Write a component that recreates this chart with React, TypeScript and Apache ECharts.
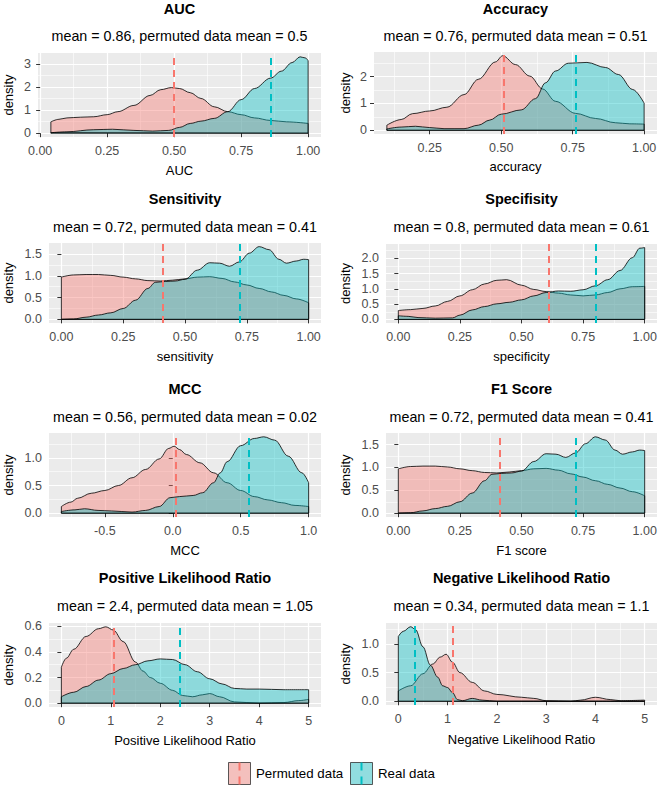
import { useEffect, useRef } from "react";
import * as echarts from "echarts";

type Pt = [number, number];

const PERM_COLOR = "#F8766D";
const REAL_COLOR = "#00BFC4";
const FONT = '"Liberation Sans", Arial, sans-serif';
const DASH = [7, 5];

// ---------- text ----------
const panelTitles = [
  "AUC",
  "Accuracy",
  "Sensitivity",
  "Specifisity",
  "MCC",
  "F1 Score",
  "Positive Likelihood Ratio",
  "Negative Likelihood Ratio",
];
const xAxisTitles = [
  "AUC",
  "accuracy",
  "sensitivity",
  "specificity",
  "MCC",
  "F1 score",
  "Positive Likelihood Ratio",
  "Negative Likelihood Ratio",
];
const realMeans = [0.86, 0.76, 0.72, 0.8, 0.56, 0.72, 2.4, 0.34];
const permutedMeans = [0.5, 0.51, 0.41, 0.61, 0.02, 0.41, 1.05, 1.1];
const legendLabels = ["Permuted data", "Real data"];

// ---------- density curves (x, density) ----------
const aucPermuted: Pt[] = [
  [0.04, 0.49], [0.07, 0.6], [0.1, 0.66], [0.15, 0.69], [0.2, 0.71], [0.25, 0.8],
  [0.29, 0.93], [0.35, 1.2], [0.41, 1.63], [0.45, 1.88], [0.49, 1.97], [0.52, 1.93],
  [0.56, 1.75], [0.6, 1.5], [0.65, 1.14], [0.7, 0.93], [0.75, 0.8], [0.8, 0.66],
  [0.86, 0.55], [0.92, 0.49], [1.0, 0.42],
];
const aucReal: Pt[] = [
  [0.04, 0.02], [0.1, 0.06], [0.2, 0.15], [0.27, 0.17], [0.35, 0.12], [0.42, 0.09],
  [0.48, 0.12], [0.52, 0.25], [0.56, 0.42], [0.6, 0.52], [0.65, 0.64], [0.7, 0.93],
  [0.75, 1.45], [0.8, 1.93], [0.86, 2.38], [0.9, 2.68], [0.94, 3.05], [0.97, 3.3],
  [0.99, 3.25], [1.0, 3.13],
];
const accuracyPermuted: Pt[] = [
  [0.1, 0.19], [0.15, 0.4], [0.19, 0.62], [0.25, 0.72], [0.31, 0.86], [0.37, 1.33],
  [0.42, 1.9], [0.48, 2.55], [0.505, 2.78], [0.55, 2.45], [0.6, 2.02], [0.645, 1.54],
  [0.69, 1.08], [0.76, 0.63], [0.83, 0.44], [0.9, 0.28], [0.95, 0.24], [1.0, 0.23],
];
const accuracyReal: Pt[] = [
  [0.1, 0.05], [0.15, 0.12], [0.2, 0.15], [0.25, 0.1], [0.3, 0.06], [0.37, 0.06],
  [0.42, 0.19], [0.46, 0.38], [0.5, 0.6], [0.57, 0.76], [0.62, 1.18], [0.655, 1.77],
  [0.69, 2.21], [0.735, 2.5], [0.8, 2.53], [0.865, 2.34], [0.91, 2.08], [0.96, 1.52],
  [1.0, 1.01],
];
const sensitivityPermuted: Pt[] = [
  [0, 0.97], [0.05, 1.02], [0.1, 1.03], [0.15, 1.03], [0.2, 1.01], [0.25, 0.97],
  [0.3, 0.93], [0.35, 0.89], [0.4, 0.88], [0.45, 0.9], [0.5, 0.93], [0.55, 0.97],
  [0.6, 0.98], [0.65, 0.94], [0.7, 0.86], [0.75, 0.79], [0.8, 0.71], [0.85, 0.63],
  [0.9, 0.55], [0.95, 0.47], [1.0, 0.38],
];
const sensitivityReal: Pt[] = [
  [0, 0], [0.05, 0.01], [0.1, 0.05], [0.15, 0.1], [0.2, 0.15], [0.25, 0.25],
  [0.3, 0.44], [0.35, 0.71], [0.38, 0.85], [0.42, 0.87], [0.46, 0.88], [0.5, 0.92],
  [0.55, 1.13], [0.6, 1.3], [0.64, 1.29], [0.68, 1.22], [0.72, 1.32], [0.76, 1.52],
  [0.8, 1.67], [0.84, 1.6], [0.88, 1.38], [0.91, 1.29], [0.95, 1.34], [0.98, 1.38],
  [1.0, 1.37],
];
const specificityPermuted: Pt[] = [
  [0, 0.29], [0.05, 0.32], [0.1, 0.36], [0.15, 0.44], [0.2, 0.59], [0.25, 0.77],
  [0.3, 0.97], [0.35, 1.16], [0.4, 1.28], [0.44, 1.3], [0.5, 1.12], [0.55, 0.98],
  [0.6, 0.91], [0.65, 0.86], [0.7, 0.8], [0.75, 0.77], [0.8, 0.8], [0.85, 0.88],
  [0.9, 1.0], [0.95, 1.07], [1.0, 1.08],
];
const specificityReal: Pt[] = [
  [0, 0.12], [0.04, 0.1], [0.08, 0.06], [0.15, 0.04], [0.22, 0.05], [0.25, 0.14],
  [0.3, 0.31], [0.35, 0.42], [0.4, 0.51], [0.45, 0.56], [0.5, 0.64], [0.55, 0.77],
  [0.6, 0.88], [0.65, 0.93], [0.7, 0.92], [0.75, 0.97], [0.8, 1.1], [0.85, 1.3],
  [0.9, 1.6], [0.95, 2.02], [0.98, 2.33], [1.0, 2.35],
];
const mccPermuted: Pt[] = [
  [-0.82, 0.12], [-0.75, 0.2], [-0.7, 0.27], [-0.6, 0.36], [-0.5, 0.41], [-0.4, 0.5],
  [-0.3, 0.64], [-0.2, 0.79], [-0.1, 0.98], [-0.03, 1.17], [0.01, 1.21], [0.05, 1.15],
  [0.1, 1.06], [0.2, 0.91], [0.3, 0.73], [0.4, 0.55], [0.5, 0.41], [0.6, 0.3],
  [0.7, 0.24], [0.8, 0.19], [0.9, 0.14], [1.0, 0.12],
];
const mccReal: Pt[] = [
  [-0.82, 0.03], [-0.72, 0.06], [-0.65, 0.08], [-0.55, 0.05], [-0.45, 0.04], [-0.3, 0.02],
  [-0.2, 0.05], [-0.1, 0.12], [-0.02, 0.28], [0.05, 0.3], [0.15, 0.32], [0.22, 0.37],
  [0.3, 0.55], [0.35, 0.73], [0.4, 0.93], [0.5, 1.22], [0.6, 1.35], [0.67, 1.38],
  [0.75, 1.32], [0.85, 1.03], [0.95, 0.73], [1.0, 0.55],
];
const f1Permuted: Pt[] = [
  [0, 0.97], [0.05, 1.02], [0.1, 1.03], [0.15, 1.03], [0.2, 1.01], [0.25, 0.97],
  [0.3, 0.93], [0.35, 0.89], [0.4, 0.88], [0.45, 0.9], [0.5, 0.93], [0.55, 0.97],
  [0.6, 0.98], [0.65, 0.94], [0.7, 0.86], [0.75, 0.79], [0.8, 0.71], [0.85, 0.63],
  [0.9, 0.55], [0.95, 0.47], [1.0, 0.38],
];
const f1Real: Pt[] = [
  [0, 0], [0.05, 0.01], [0.1, 0.05], [0.15, 0.1], [0.2, 0.15], [0.25, 0.25],
  [0.3, 0.44], [0.35, 0.71], [0.38, 0.85], [0.42, 0.87], [0.46, 0.88], [0.5, 0.92],
  [0.55, 1.13], [0.6, 1.3], [0.64, 1.29], [0.68, 1.22], [0.72, 1.32], [0.76, 1.52],
  [0.8, 1.67], [0.84, 1.6], [0.88, 1.38], [0.91, 1.29], [0.95, 1.34], [0.98, 1.38],
  [1.0, 1.37],
];
const plrPermuted: Pt[] = [
  [0, 0.28], [0.1, 0.35], [0.25, 0.42], [0.5, 0.52], [0.75, 0.58], [0.9, 0.595],
  [1.05, 0.57], [1.25, 0.48], [1.5, 0.32], [1.65, 0.25], [1.8, 0.2], [2.0, 0.155],
  [2.25, 0.1], [2.45, 0.06], [2.65, 0.05], [2.85, 0.065], [3.0, 0.075], [3.2, 0.05],
  [3.5, 0.01], [4.0, 0.0], [4.5, 0.005], [4.8, 0.02], [5.0, 0.03],
];
const plrReal: Pt[] = [
  [0, 0.05], [0.25, 0.085], [0.5, 0.13], [0.75, 0.18], [1.0, 0.23], [1.25, 0.27],
  [1.5, 0.3], [1.75, 0.33], [2.0, 0.345], [2.25, 0.34], [2.5, 0.3], [2.75, 0.245],
  [3.0, 0.19], [3.25, 0.15], [3.5, 0.115], [3.75, 0.11], [4.0, 0.11], [4.5, 0.105],
  [5.0, 0.105],
];
const nlrPermuted: Pt[] = [
  [0, 0.18], [0.25, 0.27], [0.5, 0.48], [0.7, 0.65], [0.85, 0.77], [0.97, 0.82],
  [1.1, 0.68], [1.25, 0.5], [1.5, 0.33], [1.75, 0.18], [2.0, 0.12], [2.5, 0.07],
  [2.75, 0.05], [3.0, 0.01], [3.5, 0.0], [3.7, 0.02], [4.0, 0.07], [4.3, 0.03],
  [4.5, 0.01], [5.0, 0.02],
];
const nlrReal: Pt[] = [
  [0, 1.13], [0.1, 1.22], [0.25, 1.3], [0.35, 1.25], [0.5, 0.95], [0.65, 0.63],
  [0.8, 0.42], [0.9, 0.27], [1.0, 0.24], [1.1, 0.15], [1.2, 0.03], [1.3, 0.01],
  [1.5, 0.05], [1.7, 0.02], [2.0, 0.0], [3.0, 0.0], [4.0, 0.0], [5.0, 0.0],
];

const permutedCurves = [aucPermuted, accuracyPermuted, sensitivityPermuted, specificityPermuted, mccPermuted, f1Permuted, plrPermuted, nlrPermuted];
const realCurves = [aucReal, accuracyReal, sensitivityReal, specificityReal, mccReal, f1Real, plrReal, nlrReal];

// ---------- ticks ----------
const unitTicks = [0, 0.25, 0.5, 0.75, 1];
const unitMinor = [0.125, 0.375, 0.625, 0.875];
const lrTicks = [0, 1, 2, 3, 4, 5];
const lrMinor = [0.5, 1.5, 2.5, 3.5, 4.5];
const xTicks = [unitTicks, [0.25, 0.5, 0.75, 1], unitTicks, unitTicks, [-0.5, 0, 0.5, 1], unitTicks, lrTicks, lrTicks];
const xMinor = [unitMinor, unitMinor, unitMinor, unitMinor, [-0.75, -0.25, 0.25, 0.75], unitMinor, lrMinor, lrMinor];
const yTicks = [
  [0, 1, 2, 3], [0, 1, 2], [0, 0.5, 1, 1.5], [0, 0.5, 1, 1.5, 2],
  [0, 0.5, 1], [0, 0.5, 1, 1.5], [0, 0.2, 0.4, 0.6], [0, 0.5, 1],
];
const yMinor = [
  [0.5, 1.5, 2.5], [0.5, 1.5, 2.5], [0.25, 0.75, 1.25], [0.25, 0.75, 1.25, 1.75, 2.25],
  [0.25, 0.75, 1.25], [0.25, 0.75, 1.25], [0.1, 0.3, 0.5], [0.25, 0.75, 1.25],
];
const xDecimals = [2, 2, 2, 2, 1, 2, 0, 0];
const yDecimals = [0, 0, 1, 1, 1, 1, 1, 1];

// ---------- layout (pixels) ----------
const LAYOUT = [
  { left: 38, top: 53, width: 283, height: 84, titleY: 9, subY: 35.5, nameY: 170, dX: 8 },
  { left: 374, top: 52, width: 283, height: 82, titleY: 9, subY: 35.5, nameY: 166, dX: 345 },
  { left: 49, top: 243, width: 272, height: 80, titleY: 198.5, subY: 226.5, nameY: 356, dX: 8 },
  { left: 386, top: 244, width: 271, height: 79, titleY: 198.5, subY: 226.5, nameY: 356, dX: 345 },
  { left: 49, top: 433, width: 272, height: 84, titleY: 388.5, subY: 417, nameY: 550, dX: 8 },
  { left: 386, top: 433, width: 271, height: 84, titleY: 388.5, subY: 417, nameY: 550, dX: 345 },
  { left: 49, top: 623, width: 272, height: 84, titleY: 578, subY: 605.5, nameY: 740, dX: 8 },
  { left: 386, top: 623, width: 271, height: 82, titleY: 578, subY: 605.5, nameY: 739, dX: 345 },
];

function txt(text: string, x: number, y: number, size: number, opts: any = {}) {
  return {
    type: "text",
    x,
    y,
    rotation: opts.rotation || 0,
    silent: true,
    style: {
      text,
      fontSize: size,
      fontFamily: FONT,
      fontWeight: opts.bold ? "bold" : "normal",
      fill: opts.color || "#000",
      align: opts.align || "center",
      verticalAlign: "middle",
    },
  };
}

function buildOption() {
  const grid: any[] = [];
  const xAxis: any[] = [];
  const yAxis: any[] = [];
  const series: any[] = [];
  const graphic: any[] = [];

  LAYOUT.forEach((L, i) => {
    const perm = permutedCurves[i];
    const real = realCurves[i];
    const xs = [...perm, ...real].map((p) => p[0]);
    const ys = [...perm, ...real].map((p) => p[1]);
    const xMin = Math.min(...xs);
    const xMax = Math.max(...xs);
    const yMax = Math.max(...ys);
    const xPad = (xMax - xMin) * 0.05;

    grid.push({
      left: L.left, top: L.top, width: L.width, height: L.height,
      show: true, backgroundColor: "#EBEBEB", borderWidth: 0,
      outerBoundsMode: "none", containLabel: false,
    });

    const xd = xDecimals[i];
    const yd = yDecimals[i];
    xAxis.push({
      type: "value", gridIndex: i, min: xMin - xPad, max: xMax + xPad,
      axisLine: { show: false },
      axisTick: { show: true, length: 4, customValues: xTicks[i], lineStyle: { color: "#333333", width: 1 } },
      axisLabel: {
        customValues: xTicks[i], formatter: (v: number) => v.toFixed(xd),
        color: "#4D4D4D", fontSize: 12.5, fontFamily: FONT, margin: 7,
      },
      splitLine: { show: true, lineStyle: { color: "#FFFFFF", width: 1.2 } },
    });
    xAxis.push({
      type: "value", gridIndex: i, min: xMin - xPad, max: xMax + xPad, position: "bottom",
      axisLine: { show: false },
      axisTick: { show: false, customValues: xMinor[i] },
      axisLabel: { show: false, customValues: xMinor[i] },
      splitLine: { show: true, lineStyle: { color: "#FFFFFF", width: 0.6 } },
    });
    yAxis.push({
      type: "value", gridIndex: i, min: -0.05 * yMax, max: 1.05 * yMax,
      axisLine: { show: false },
      axisTick: { show: true, length: 4, customValues: yTicks[i], lineStyle: { color: "#333333", width: 1 } },
      axisLabel: {
        customValues: yTicks[i], formatter: (v: number) => v.toFixed(yd),
        color: "#4D4D4D", fontSize: 12.5, fontFamily: FONT, margin: 7,
      },
      splitLine: { show: true, lineStyle: { color: "#FFFFFF", width: 1.2 } },
    });
    yAxis.push({
      type: "value", gridIndex: i, min: -0.05 * yMax, max: 1.05 * yMax, position: "left",
      axisLine: { show: false },
      axisTick: { show: false, customValues: yMinor[i] },
      axisLabel: { show: false, customValues: yMinor[i] },
      splitLine: { show: true, lineStyle: { color: "#FFFFFF", width: 0.6 } },
    });

    const xi = 2 * i;
    const yi = 2 * i;
    const curve = (data: Pt[], color: string, z: number, withMarks: boolean) => {
      const first = data[0];
      const last = data[data.length - 1];
      series.push({
        type: "line", xAxisIndex: xi, yAxisIndex: yi, data,
        smooth: 0.35, smoothMonotone: "x", symbol: "none", silent: true, z,
        lineStyle: { color: "#000000", width: 0.8 },
        areaStyle: { color, opacity: 0.4 },
        markLine: withMarks
          ? {
              silent: true, symbol: ["none", "none"], label: { show: false },
              data: [
                { xAxis: permutedMeans[i], lineStyle: { color: PERM_COLOR, type: DASH, width: 2 } },
                { xAxis: realMeans[i], lineStyle: { color: REAL_COLOR, type: DASH, width: 2 } },
              ],
            }
          : undefined,
      });
      series.push({
        type: "line", xAxisIndex: xi, yAxisIndex: yi,
        data: [[first[0], first[1]], [first[0], 0], [last[0], 0], [last[0], last[1]]],
        symbol: "none", silent: true, z,
        lineStyle: { color: "#000000", width: 0.8 },
      });
    };
    curve(perm, PERM_COLOR, 2, false);
    curve(real, REAL_COLOR, 3, true);

    const cx = L.left + L.width / 2;
    graphic.push(txt(panelTitles[i], cx, L.titleY, 14.5, { bold: true }));
    graphic.push(
      txt(`mean = ${realMeans[i]}, permuted data mean = ${permutedMeans[i]}`, cx, L.subY, 14.3)
    );
    graphic.push(txt(xAxisTitles[i], cx, L.nameY, 13));
    graphic.push(txt("density", L.dX, L.top + L.height / 2, 13, { rotation: Math.PI / 2 }));
  });

  // legend
  const keys = [
    { x: 228, color: PERM_COLOR, fill: "rgba(248,118,109,0.4)", label: legendLabels[0] },
    { x: 350, color: REAL_COLOR, fill: "rgba(0,191,196,0.4)", label: legendLabels[1] },
  ];
  keys.forEach((k) => {
    graphic.push({
      type: "rect", silent: true,
      shape: { x: k.x, y: 762, width: 23, height: 23 },
      style: { fill: "#F2F2F2", stroke: "none" },
    });
    graphic.push({
      type: "rect", silent: true,
      shape: { x: k.x + 0.5, y: 762.5, width: 22, height: 22 },
      style: { fill: k.fill, stroke: "#333333", lineWidth: 0.8 },
    });
    graphic.push({
      type: "line", silent: true,
      shape: { x1: k.x + 11.5, y1: 762.5, x2: k.x + 11.5, y2: 784.5 },
      style: { stroke: k.color, lineWidth: 2, lineDash: [8, 6] },
    });
    graphic.push(txt(k.label, k.x + 28, 773.5, 13.3, { align: "left" }));
  });

  return {
    animation: false,
    textStyle: { fontFamily: FONT },
    grid,
    xAxis,
    yAxis,
    series,
    graphic,
  };
}

export default function App() {
  const ref = useRef<HTMLDivElement>(null);
  useEffect(() => {
    if (!ref.current) return;
    const chart = echarts.init(ref.current, undefined, { renderer: "svg" });
    chart.setOption(buildOption() as any);
    return () => chart.dispose();
  }, []);
  return (
    <div
      ref={ref}
      style={{ position: "absolute", left: 0, top: 0, width: 660, height: 788, background: "#FFFFFF" }}
    />
  );
}
